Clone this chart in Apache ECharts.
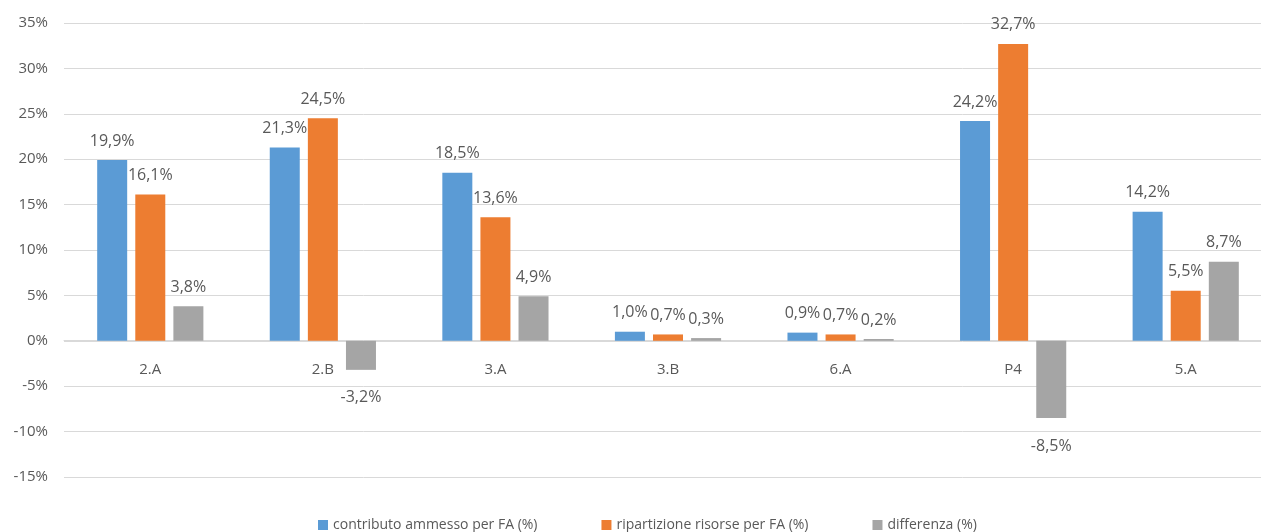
<!DOCTYPE html>
<html>
<head>
<meta charset="utf-8">
<script src="https://cdn.jsdelivr.net/npm/echarts@6/dist/echarts.min.js"></script>
<style>
html,body{margin:0;padding:0;background:#fff;}
#chart{width:1261px;height:532px;}
</style>
</head>
<body>
<div id="chart"></div>
<script>
const categories = ['2.A', '2.B', '3.A', '3.B', '6.A', 'P4', '5.A'];
const contributo = [19.9, 21.3, 18.5, 1.0, 0.9, 24.2, 14.2];
const ripartizione = [16.1, 24.5, 13.6, 0.7, 0.7, 32.7, 5.5];
const differenza = [3.8, -3.2, 4.9, 0.3, 0.2, -8.5, 8.7];
const seriesNames = ['contributo ammesso per FA (%)', 'ripartizione risorse per FA (%)', 'differenza (%)'];
const colors = ['#5b9bd5', '#ed7d31', '#a5a5a5'];

const FONT = '"Open Sans", sans-serif';
const fmt = v => v.toFixed(1).replace('.', ',') + '%';

function toData(arr) {
  return arr.map(v => ({
    value: v,
    label: { position: v < 0 ? 'bottom' : 'top', distance: v < 0 ? 20 : 11 }
  }));
}

function mkSeries(name, arr, color) {
  return {
    name: name,
    type: 'bar',
    data: toData(arr),
    barWidth: 30,
    barGap: '27%',
    itemStyle: { color: color },
    label: {
      show: true,
      fontFamily: FONT,
      fontSize: 16,
      color: '#595959',
      formatter: p => fmt(p.value)
    }
  };
}

const chart = echarts.init(document.getElementById('chart'));
chart.setOption({
  backgroundColor: '#ffffff',
  animation: false,
  textStyle: { fontFamily: FONT },
  grid: { left: 64, width: 1208, top: 23, height: 454, containLabel: false, outerBoundsMode: 'none' },
  legend: {
    top: 513,
    left: 313,
    itemWidth: 10,
    itemHeight: 10,
    itemGap: 64,
    icon: 'rect',
    textStyle: { fontFamily: FONT, fontSize: 14, color: '#595959' },
    data: seriesNames
  },
  xAxis: {
    type: 'category',
    data: categories,
    offset: -137,
    axisLine: { show: true, onZero: false, lineStyle: { color: '#d9d9d9', width: 1 } },
    axisTick: { show: false },
    axisLabel: { fontFamily: FONT, fontSize: 15, color: '#595959', margin: 22 }
  },
  yAxis: {
    type: 'value',
    min: -15,
    max: 35,
    interval: 5,
    axisLine: { show: false },
    axisTick: { show: false },
    splitLine: { lineStyle: { color: '#d9d9d9', width: 1 } },
    axisLabel: { fontFamily: FONT, fontSize: 15, color: '#595959', margin: 16, formatter: '{value}%' }
  },
  series: [
    mkSeries(seriesNames[0], contributo, colors[0]),
    mkSeries(seriesNames[1], ripartizione, colors[1]),
    mkSeries(seriesNames[2], differenza, colors[2])
  ]
});
</script>
</body>
</html>
